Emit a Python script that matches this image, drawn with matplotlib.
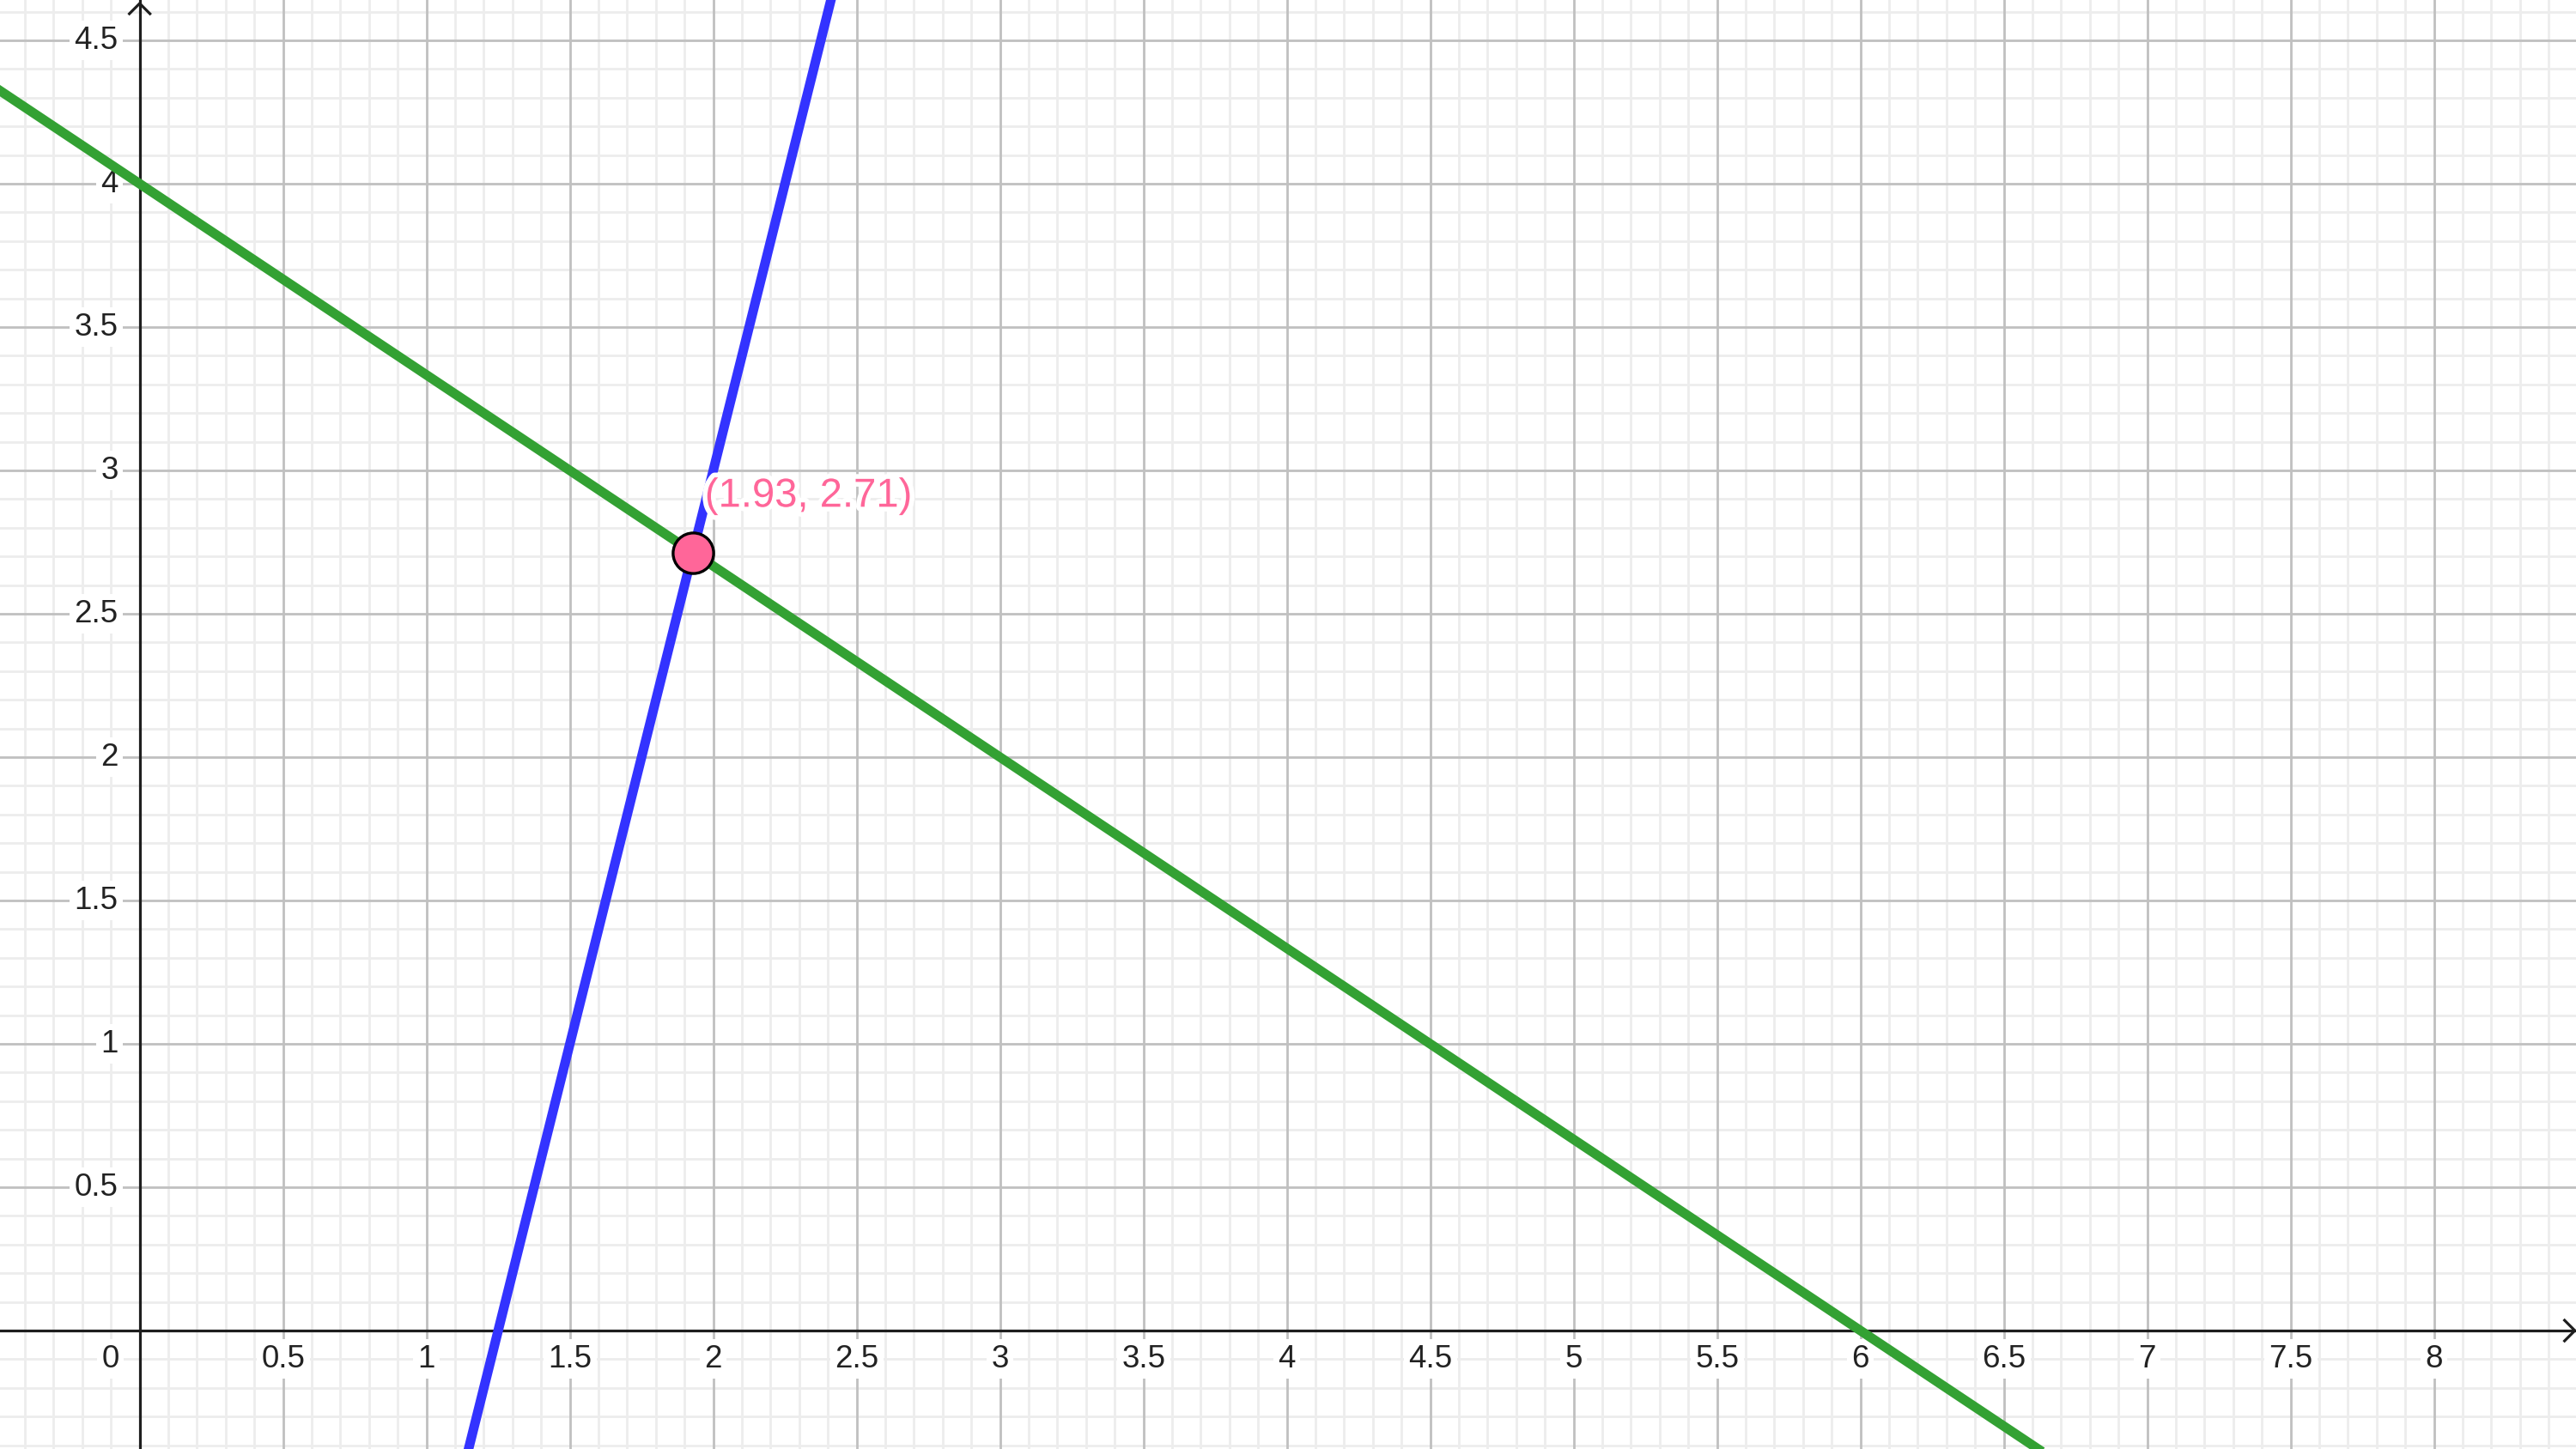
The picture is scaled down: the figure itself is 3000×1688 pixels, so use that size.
import matplotlib.pyplot as plt
import matplotlib.patheffects as pe
import numpy as np

# lines y = m*x + b
line_slopes = [-2/3, 4]
line_intercepts = [4, -5]
line_colors = ['#33a133', '#3333ff']

# intersection point
pt_x, pt_y = 1.929, 2.714
pt_label = '(1.93, 2.71)'

xticks = [0.5, 1, 1.5, 2, 2.5, 3, 3.5, 4, 4.5, 5, 5.5, 6, 6.5, 7, 7.5, 8]
xtick_labels = ['0.5', '1', '1.5', '2', '2.5', '3', '3.5', '4', '4.5', '5', '5.5', '6', '6.5', '7', '7.5', '8']
yticks = [0.5, 1, 1.5, 2, 2.5, 3, 3.5, 4, 4.5]
ytick_labels = ['0.5', '1', '1.5', '2', '2.5', '3', '3.5', '4', '4.5']

plt.rcParams['font.family'] = ['Liberation Sans', 'DejaVu Sans']

xmin, xmax = -0.487, 8.495
ymin, ymax = -0.413, 4.641

fig = plt.figure(figsize=(30, 16.88), dpi=100)
ax = fig.add_axes([0, 0, 1, 1])
ax.set_xlim(xmin, xmax)
ax.set_ylim(ymin, ymax)
ax.set_axis_off()

# grid
for v in np.arange(-0.4, 8.5, 0.1):
    major = abs(v * 2 - round(v * 2)) < 1e-6
    ax.axvline(v, color='#c0c0c0' if major else '#ededed', lw=2.0, zorder=1 if major else 0)
for v in np.arange(-0.4, 4.7, 0.1):
    major = abs(v * 2 - round(v * 2)) < 1e-6
    ax.axhline(v, color='#c0c0c0' if major else '#ededed', lw=2.0, zorder=1 if major else 0)

# axes with open arrow heads
ac = '#1e1e1e'
ax.axhline(0, color=ac, lw=2.3, zorder=3)
ax.axvline(0, color=ac, lw=2.3, zorder=3)
a = 12 / 334
ax.plot([xmax - 0.004 - a, xmax - 0.004, xmax - 0.004 - a], [a, 0, -a], color=ac, lw=2.3, zorder=3, solid_joinstyle='miter')
ax.plot([-a, 0, a], [ymax - 0.012 - a, ymax - 0.012, ymax - 0.012 - a], color=ac, lw=2.3, zorder=3, solid_joinstyle='miter')

box = dict(boxstyle='square,pad=0.15', fc='white', ec='none')
for t, s in zip(xticks, xtick_labels):
    ax.annotate(s, (t, 0), xytext=(0, -24), textcoords='offset points', ha='center', va='center',
                fontsize=26.5, color='#222222', bbox=box, zorder=2)
ax.annotate('0', (0, 0), xytext=(-24.5, -24), textcoords='offset points', ha='center', va='center',
            fontsize=26.5, color='#222222', bbox=box, zorder=2)
for t, s in zip(yticks, ytick_labels):
    ax.annotate(s, (0, t), xytext=(-18, 0), textcoords='offset points', ha='right', va='center',
                fontsize=26.5, color='#222222', bbox=box, zorder=2)

# lines
for m, b, c in zip(line_slopes, line_intercepts, line_colors):
    ax.axline((0, b), slope=m, color=c, lw=8, zorder=4)

# point and label
ax.plot([pt_x], [pt_y], 'o', ms=34, mfc='#ff6699', mec='black', mew=2.4, zorder=6)
ax.annotate(pt_label, (pt_x, pt_y), xytext=(10, 47), textcoords='offset points', ha='left', va='center',
            fontsize=34, color='#ff6699', zorder=5,
            path_effects=[pe.withStroke(linewidth=8, foreground='white')])

fig.savefig('out.png', dpi=100)
